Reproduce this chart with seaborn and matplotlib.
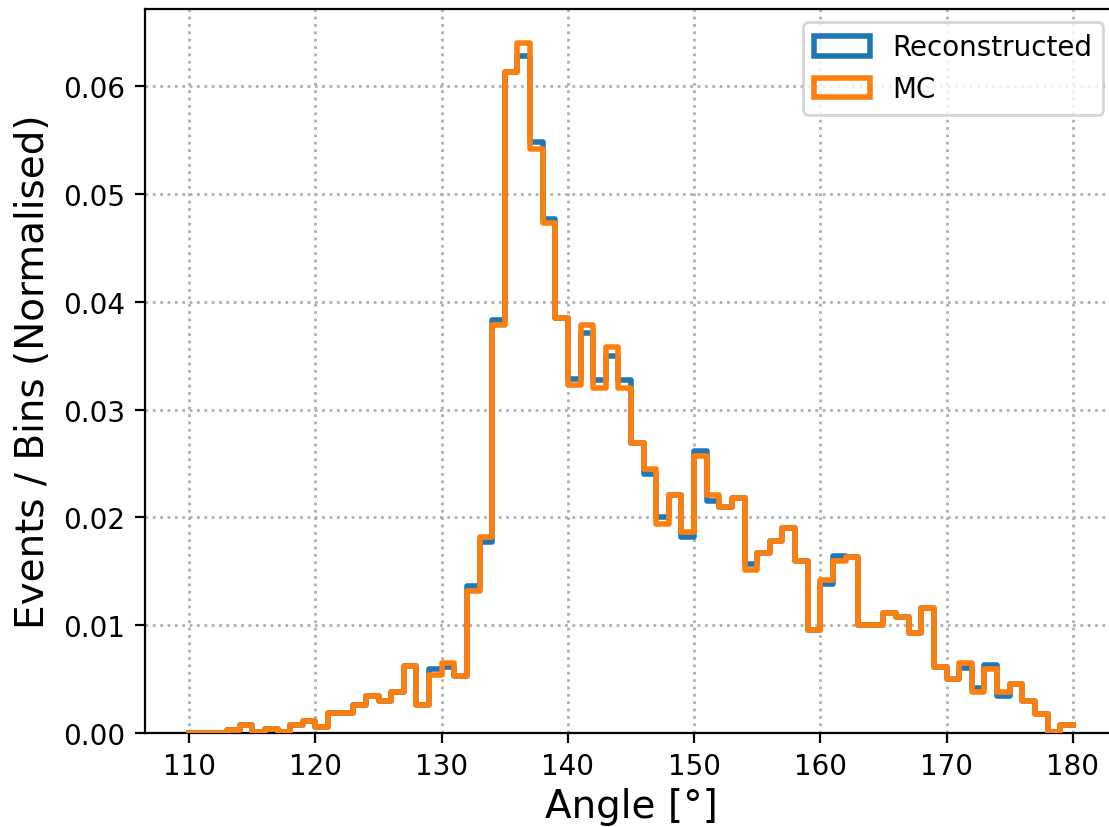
import numpy as np
import pandas as pd
import matplotlib
matplotlib.use("Agg")
import matplotlib.pyplot as plt
from matplotlib.patches import Patch
import seaborn as sns

# Bin edges (degrees): 1-degree bins from 110 to 180
bin_edges = list(range(110, 181))

# Normalised bin contents, one value per bin (110-111, ..., 179-180)
mc_values = [
    0.0, 0.0, 0.0, 0.0003, 0.0007, 0.0001, 0.0004, 0.0001, 0.0007, 0.0011,   # 110-119
    0.0006, 0.0019, 0.0019, 0.0026, 0.0034, 0.0030, 0.0038, 0.0062, 0.0026, 0.0054,  # 120-129
    0.0065, 0.0053, 0.0132, 0.0182, 0.0378, 0.0613, 0.0640, 0.0542, 0.0473, 0.0385,  # 130-139
    0.0323, 0.0378, 0.0320, 0.0358, 0.0320, 0.0269, 0.0245, 0.0194, 0.0221, 0.0186,  # 140-149
    0.0257, 0.0221, 0.0210, 0.0218, 0.0151, 0.0167, 0.0178, 0.0190, 0.0160, 0.0096,  # 150-159
    0.0142, 0.0160, 0.0163, 0.0100, 0.0100, 0.0111, 0.0108, 0.0093, 0.0116, 0.0061,  # 160-169
    0.0050, 0.0065, 0.0038, 0.0059, 0.0038, 0.0045, 0.0030, 0.0018, 0.0001, 0.0007,  # 170-179
]

reco_values = [
    0.0, 0.0, 0.0, 0.0003, 0.0007, 0.0001, 0.0004, 0.0001, 0.0007, 0.0011,   # 110-119
    0.0006, 0.0019, 0.0019, 0.0026, 0.0034, 0.0030, 0.0038, 0.0062, 0.0026, 0.0059,  # 120-129
    0.0061, 0.0053, 0.0136, 0.0177, 0.0383, 0.0613, 0.0628, 0.0548, 0.0477, 0.0385,  # 130-139
    0.0328, 0.0371, 0.0327, 0.0350, 0.0327, 0.0269, 0.0240, 0.0200, 0.0221, 0.0182,  # 140-149
    0.0262, 0.0215, 0.0210, 0.0218, 0.0157, 0.0167, 0.0178, 0.0190, 0.0160, 0.0096,  # 150-159
    0.0138, 0.0164, 0.0163, 0.0100, 0.0100, 0.0111, 0.0108, 0.0093, 0.0116, 0.0061,  # 160-169
    0.0050, 0.0060, 0.0042, 0.0063, 0.0034, 0.0045, 0.0030, 0.0018, 0.0001, 0.0007,  # 170-179
]

series_labels = ["Reconstructed", "MC"]
series_colors = ["#1f77b4", "#ff7f0e"]
x_label = "Angle [°]"
y_label = "Events / Bins (Normalised)"
x_ticks = [110, 120, 130, 140, 150, 160, 170, 180]

edges = np.array(bin_edges, dtype=float)
centers = 0.5 * (edges[:-1] + edges[1:])
df = pd.DataFrame({
    "angle": np.concatenate([centers, centers]),
    "weight": np.concatenate([reco_values, mc_values]),
    "series": [series_labels[0]] * len(centers) + [series_labels[1]] * len(centers),
})

fig = plt.figure(figsize=(1109 / 200, 828 / 200), dpi=200)
ax = fig.add_axes([145 / 1109, 94 / 828, 972 / 1109, 724.5 / 828])

for lab, col in zip(series_labels, series_colors):
    sub = df[df["series"] == lab]
    sns.histplot(data=sub, x="angle", weights="weight",
                 binwidth=1, binrange=(edges[0], edges[-1]),
                 element="step", fill=False, color=col, linewidth=2,
                 ax=ax, zorder=3)

ax.set_xlim(106.5, 183.5)
ax.set_ylim(0, 0.0672)
ax.set_xticks(x_ticks)
ax.yaxis.set_major_formatter(matplotlib.ticker.FormatStrFormatter("%.2f"))
ax.tick_params(labelsize=10)
ax.set_xlabel(x_label, fontsize=14, labelpad=2.5)
ax.set_ylabel(y_label, fontsize=14)
ax.grid(True, linestyle=":", color="#b0b0b0", linewidth=1.0)
ax.set_axisbelow(True)

handles = [Patch(facecolor="none", edgecolor=c, linewidth=2, label=l)
           for l, c in zip(series_labels, series_colors)]
ax.legend(handles=handles, loc="upper right", fontsize=10)

fig.savefig("out.png", dpi=200)
